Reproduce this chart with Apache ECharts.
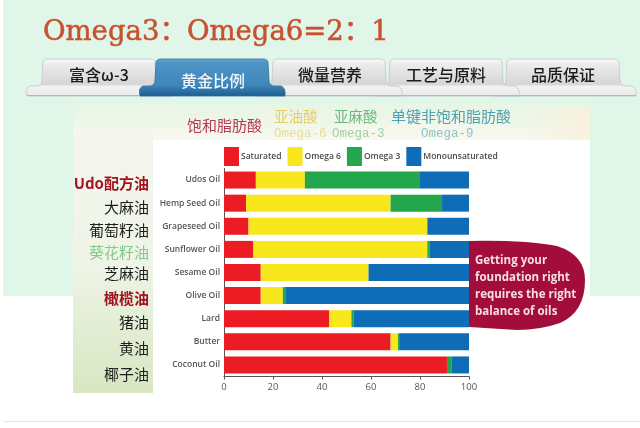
<!DOCTYPE html>
<html>
<head>
<meta charset="utf-8">
<style>
  html, body { margin: 0; padding: 0; background: #fff; }
  #chart { width: 640px; height: 428px; }
</style>
<script src="https://cdn.jsdelivr.net/npm/echarts@6/dist/echarts.min.js"></script>
</head>
<body>
<div id="chart"></div>
<script>
var oils = ["Udos Oil", "Hemp Seed Oil", "Grapeseed Oil", "Sunflower Oil", "Sesame Oil", "Olive Oil", "Lard", "Butter", "Coconut Oil"];
var saturated = [13, 9, 10, 12, 15, 15, 43, 68, 91];
var omega6 = [20, 59, 73, 71, 44, 9, 9, 3, 0];
var omega3 = [47, 21, 0, 1, 0, 1, 1, 0.5, 2];
var mono = [20, 11, 17, 16, 41, 75, 47, 28.5, 7];
var xTicks = [0, 20, 40, 60, 80, 100];

var tabLabels = ["富含ω-3", "黄金比例", "微量营养", "工艺与原料", "品质保证"];
var oilsCn = ["Udo配方油", "大麻油", "葡萄籽油", "葵花籽油", "芝麻油", "橄榄油", "猪油", "黄油", "椰子油"];
var oilsCnY = [183, 207, 230, 252, 273, 298, 322, 348, 374];
var calloutLines = ["Getting your", "foundation right", "requires the right", "balance of oils"];

var RED = "#ec1c24", YELLOW = "#f8e71c", GREEN = "#23a64c", BLUE = "#0f6cb6";
var CJK = '"Noto Sans CJK SC"';

// tab with the flared foot
echarts.graphic.registerShape("tabShape", echarts.graphic.extendShape({
  shape: { x: 0 },
  buildPath: function (ctx, shape) {
    var l = shape.x, r = shape.x + 114, t = 59, b = 96, m = 86;
    ctx.moveTo(l - 15, b);
    ctx.quadraticCurveTo(l - 17, m + 2, l - 12, m);
    ctx.lineTo(l - 6, m);
    ctx.quadraticCurveTo(l, m, l, m - 6);
    ctx.lineTo(l + 1, t + 4);
    ctx.quadraticCurveTo(l + 1, t, l + 6, t);
    ctx.lineTo(r - 6, t);
    ctx.quadraticCurveTo(r - 1, t, r - 1, t + 4);
    ctx.lineTo(r, m - 6);
    ctx.quadraticCurveTo(r, m, r + 6, m);
    ctx.lineTo(r + 12, m);
    ctx.quadraticCurveTo(r + 17, m + 2, r + 16, b);
    ctx.closePath();
  }
}));

echarts.graphic.registerShape("calloutShape", echarts.graphic.extendShape({
  shape: {},
  buildPath: function (ctx) {
    ctx.moveTo(469, 241);
    ctx.quadraticCurveTo(525, 240, 557, 246);
    ctx.quadraticCurveTo(585, 255, 585, 280);
    ctx.quadraticCurveTo(585, 312, 560, 323);
    ctx.quadraticCurveTo(540, 330, 517, 330);
    ctx.lineTo(469, 327);
    ctx.closePath();
  }
}));

var chart = echarts.init(document.getElementById("chart"));

var tabX = [42, 155, 272, 389, 506];
var tabTextX = [99, 213, 330, 446, 563];
var graphics = [
  { type: "rect", z: -20, shape: { x: 3, y: 0, width: 637, height: 296 }, style: { fill: "#e0f6e8" } },
  { type: "rect", z: -19, shape: { x: 73, y: 103, width: 517, height: 290 },
    style: { fill: new echarts.graphic.LinearGradient(0, 0, 0, 1, [
      { offset: 0, color: "#e6f5e4" }, { offset: 0.12, color: "#f7f8ee" }, { offset: 1, color: "#fbfbf6" }
    ]) } },
  { type: "rect", z: -18, shape: { x: 530, y: 108, width: 60, height: 32 },
    style: { fill: new echarts.graphic.LinearGradient(0, 0, 1, 0, [
      { offset: 0, color: "rgba(250,240,220,0)" }, { offset: 1, color: "#faf0dc" }
    ]) } },
  { type: "rect", z: -18, shape: { x: 73, y: 135, width: 80, height: 258 },
    style: { fill: new echarts.graphic.LinearGradient(0, 0, 0, 1, [
      { offset: 0, color: "#f4f6ee" }, { offset: 0.5, color: "#eef4e6" }, { offset: 1, color: "#d8e6c2" }
    ]) } },
  { type: "rect", z: -17, shape: { x: 153, y: 140, width: 437, height: 253 }, style: { fill: "#ffffff" } },
  { type: "rect", z: -17, shape: { x: 3, y: 421, width: 637, height: 1 }, style: { fill: "#e6e6e6" } },
  { type: "text", z: 5, x: 43, y: 19, style: { text: "Omega3：Omega6=2：1", fill: "#c9512f", stroke: "#c9512f", lineWidth: 0.5, font: '27.5px "DejaVu Serif", ' + CJK } }
];

// inactive tabs first, active one drawn over them
[0, 4, 3, 2, 1].forEach(function (i) {
  var active = i === 1;
  graphics.push({
    type: "tabShape", z: active ? 4 : 3,
    shape: { x: tabX[i] },
    style: {
      fill: new echarts.graphic.LinearGradient(0, 0, 0, 1, active
        ? [{ offset: 0, color: "#74aad2" }, { offset: 0.1, color: "#4f94c6" }, { offset: 0.7, color: "#3f86ba" }, { offset: 1, color: "#1c5c90" }]
        : [{ offset: 0, color: "#fbfbfb" }, { offset: 0.15, color: "#ececec" }, { offset: 0.68, color: "#d6d6d6" },
           { offset: 0.74, color: "#f3f3f3" }, { offset: 0.95, color: "#ebebeb" }, { offset: 1, color: "#7a7a7a" }]),
      stroke: active ? "#2d6f9f" : "#c4c4c4", lineWidth: 0.8
    }
  });
  graphics.push({
    type: "text", z: 6, x: tabTextX[i], y: active ? 81 : 75,
    style: {
      text: tabLabels[i], textAlign: "center", textVerticalAlign: "middle",
      fill: active ? "#eef6fb" : "#1c1c1c", font: "500 16px " + CJK
    }
  });
});

function topLabel(text, x, y, color, size, family) {
  graphics.push({ type: "text", z: 5, x: x, y: y,
    style: { text: text, fill: color, textVerticalAlign: "middle", font: size + "px " + (family || CJK) } });
}
topLabel("饱和脂肪酸", 187, 125, "#b23a52", 15);
topLabel("亚油酸", 274, 116, "#e2cf66", 14.5);
topLabel("亚麻酸", 334, 116, "#6db981", 14.5);
topLabel("单键非饱和脂肪酸", 391, 116, "#4f9fb2", 15);
topLabel("Omega-6", 274, 134, "#e6dc9c", 12.5, '"Liberation Mono"');
topLabel("Omega-3", 332, 134, "#a3cfa8", 12.5, '"Liberation Mono"');
topLabel("Omega-9", 421, 134, "#8fc3cc", 12.5, '"Liberation Mono"');

oilsCn.forEach(function (name, i) {
  var color = "#1d1d1d", weight = "400";
  if (i === 0 || i === 5) { color = "#a3121f"; weight = "700"; }
  if (i === 3) { color = "#84c98a"; }
  graphics.push({ type: "text", z: 5, x: 149, y: oilsCnY[i],
    style: { text: name, fill: color, textAlign: "right", textVerticalAlign: "middle", font: weight + " 15px " + CJK } });
});

// callout, sits over the right end of the bars
graphics.push({ type: "calloutShape", z: 20, shape: {}, style: { fill: "#a30d3c" } });
calloutLines.forEach(function (line, i) {
  graphics.push({ type: "text", z: 21, x: 475, y: 261 + i * 17,
    style: { text: line, fill: "#f6dfe4", textVerticalAlign: "middle", font: '700 11.5px "Open Sans"' } });
});

function makeSeries(name, values, color) {
  return {
    name: name, type: "bar", stack: "oil", data: values, barWidth: 17,
    itemStyle: { color: color }, animation: false
  };
}

chart.setOption({
  animation: false,
  backgroundColor: "#ffffff",
  textStyle: { fontFamily: '"Open Sans"' },
  graphic: graphics,
  grid: { left: 224, top: 168.5, width: 245, height: 208, containLabel: false },
  legend: {
    left: 224, top: 147, padding: 0, itemWidth: 15, itemHeight: 19, itemGap: 6,
    icon: "rect",
    textStyle: { color: "#4a4a4a", fontSize: 8.5, fontWeight: 600, padding: [0, 0, 0, -3] },
    data: ["Saturated", "Omega 6", "Omega 3", "Monounsaturated"]
  },
  xAxis: {
    type: "value", min: 0, max: 100, interval: 20,
    axisLine: { show: true, lineStyle: { color: "#555", width: 1 } },
    axisTick: { show: true, length: 3, lineStyle: { color: "#555" } },
    axisLabel: { color: "#555", fontSize: 9.5, margin: 6,
      formatter: function (v) { return xTicks.indexOf(v) >= 0 ? String(v) : ""; } },
    splitLine: { show: false }
  },
  yAxis: {
    type: "category", data: oils, inverse: true,
    axisLine: { show: true, lineStyle: { color: "#555", width: 1 } },
    axisTick: { show: false },
    axisLabel: { color: "#555", fontSize: 8.5, fontWeight: 600, margin: 4 }
  },
  series: [
    makeSeries("Saturated", saturated, RED),
    makeSeries("Omega 6", omega6, YELLOW),
    makeSeries("Omega 3", omega3, GREEN),
    makeSeries("Monounsaturated", mono, BLUE)
  ]
});
</script>
</body>
</html>
